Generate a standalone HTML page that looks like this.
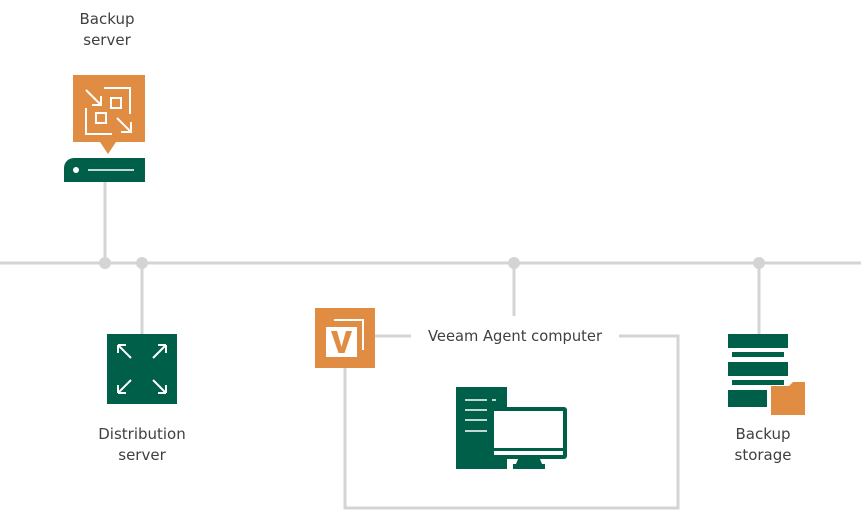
<!DOCTYPE html>
<html><head><style>
body{margin:0;background:#fff;}
svg text{font-family:"DejaVu Sans","Liberation Sans",sans-serif;font-size:15px;fill:#404040;}
</style></head><body>
<svg width="861" height="510" viewBox="0 0 861 510" xmlns="http://www.w3.org/2000/svg">
<g stroke="#d4d4d4" stroke-width="3" fill="none">
<line x1="0" y1="263" x2="861" y2="263"/>
<line x1="105" y1="182" x2="105" y2="263"/>
<line x1="142" y1="263" x2="142" y2="334"/>
<line x1="514" y1="263" x2="514" y2="316"/>
<line x1="759" y1="263" x2="759" y2="334"/>
<polyline points="375,336 411,336"/>
<polyline points="619,336 678,336 678,508 345,508 345,368"/>
</g>
<g fill="#d4d4d4"><circle cx="105" cy="263" r="6"/><circle cx="142" cy="263" r="6"/><circle cx="514" cy="263" r="6"/><circle cx="759" cy="263" r="6"/></g>
<text x="107" y="24" text-anchor="middle">Backup</text>
<text x="107" y="45" text-anchor="middle">server</text>
<text x="142" y="439" text-anchor="middle">Distribution</text>
<text x="142" y="460" text-anchor="middle">server</text>
<text x="763" y="439" text-anchor="middle">Backup</text>
<text x="763" y="460" text-anchor="middle">storage</text>
<text x="428" y="341" textLength="174" lengthAdjust="spacingAndGlyphs">Veeam Agent computer</text>
<!-- backup server -->
<path d="M73 75H145V142H116L108 154L100 142H73Z" fill="#e08d43"/>
<g stroke="#fff" stroke-width="2" fill="none">
<path d="M104 88H130V114"/>
<path d="M86 108V134H112"/>
<rect x="96" y="113" width="10" height="10"/><rect x="111" y="98" width="10" height="10"/>
<path d="M86 90L101 105M101 96V105H92"/>
<path d="M117 118L131 132M131 122V132H121"/>
</g>
<path d="M74 158H145V182H64V168A10 10 0 0 1 74 158Z" fill="#005f49"/>
<circle cx="76" cy="170" r="3" fill="#fff"/><line x1="88" y1="170" x2="134" y2="170" stroke="#fff" stroke-width="1.5"/>
<!-- distribution -->
<rect x="107" y="334" width="70" height="70" fill="#005f49"/>
<g stroke="#fff" stroke-width="2" fill="none">
<path d="M118 345L131 358M118 345H126M118 345V353"/>
<path d="M166 345L153 358M166 345H158M166 345V353"/>
<path d="M118 393L131 380M118 393H126M118 393V385"/>
<path d="M166 393L153 380M166 393H158M166 393V385"/>
</g>
<!-- V icon -->
<rect x="315" y="308" width="60" height="60" fill="#e08d43"/>
<path d="M334 320H363V350" stroke="#fff" stroke-width="2" fill="none"/>
<rect x="326" y="327" width="31" height="30" fill="#fff"/>
<path d="M331 331H337L341.5 347L346 331H352L344.5 353H338.5Z" fill="#e08d43"/>
<!-- computer -->
<rect x="456" y="387" width="51" height="82" fill="#005f49"/>
<g stroke="#fff" stroke-width="1.5"><line x1="465" y1="400" x2="487" y2="400"/><line x1="492" y1="400" x2="496" y2="400"/><line x1="465" y1="410" x2="487" y2="410"/><line x1="465" y1="420" x2="487" y2="420"/><line x1="465" y1="431" x2="487" y2="431"/></g>
<rect x="492" y="407" width="75" height="52" rx="3" fill="#005f49"/>
<rect x="494" y="411" width="69" height="37" fill="#fff"/>
<rect x="494" y="451" width="69" height="4" fill="#fff"/>
<path d="M518 459H540L542 464H545V469H513V464H516Z" fill="#005f49"/>
<!-- storage -->
<g fill="#005f49"><rect x="728" y="334" width="60" height="14"/><rect x="732" y="352" width="52" height="5"/><rect x="728" y="362" width="60" height="14"/><rect x="732" y="380" width="52" height="5"/><rect x="728" y="390" width="39" height="17"/></g>
<path d="M771 386H789L793 382H805V415H771Z" fill="#e08d43"/>
</svg>
</body></html>
